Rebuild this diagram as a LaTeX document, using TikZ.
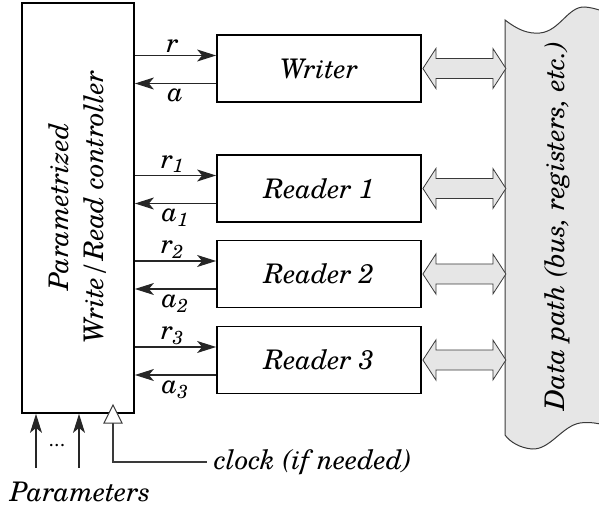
\documentclass[tikz,border=0pt]{standalone}
\usepackage{fontspec}
\setmainfont{TeX Gyre Schola}
\usetikzlibrary{arrows.meta,calc}
\definecolor{pathgray}{HTML}{E6E6E6}
\definecolor{linegray}{HTML}{3A3A3A}
\tikzset{
  blockbox/.style={draw=black, line width=1.8pt, minimum width=204pt, minimum height=67pt, inner sep=0pt},
  sig/.style={draw=black!85, line width=1.2pt, -{Stealth[length=19pt,width=12pt,inset=5pt]}},
  lbl/.style={inner sep=2pt},
  dbl/.style={draw=linegray, line width=0.8pt, fill=pathgray},
  clk/.style={draw=linegray, line width=1.3pt}
}
\begin{document}
\begin{tikzpicture}[x=1pt,y=-1pt,font=\fontsize{27}{35}\selectfont\itshape]
\useasboundingbox (0,0) rectangle (599,510);
% data path
\begin{scope}
\clip (0,0) rectangle (599,510);
\draw[linegray, line width=1pt, fill=pathgray]
  (505,20) .. controls (518,30) and (528,34) .. (540,33)
  .. controls (560,31) and (568,6) .. (585,7)
  .. controls (596,8) and (605,12) .. (615,16)
  -- (615,428)
  .. controls (605,425) and (592,421) .. (580,423)
  .. controls (562,426) and (550,450) .. (532,449)
  .. controls (520,448) and (510,442) .. (505,435) -- cycle;
\end{scope}
\node[rotate=90] (dp) at (557,226) {Data path (bus, registers, etc.)};
% controller
\node[draw=black, line width=1.8pt, minimum width=112pt, minimum height=410pt, inner sep=0pt] (ctrl) at (78,208) {};
\node[rotate=90, align=center] (ctrltext) at (78,207) {Parametrized\\Write/Read controller};
% blocks
\node[blockbox] (w) at (319,68.5) {Writer};
\node[blockbox] (r1) at (319,188.5) {Reader 1};
\node[blockbox] (r2) at (319,274) {Reader 2};
\node[blockbox] (r3) at (319,360) {Reader 3};
% handshakes
\foreach \b/\rl/\al in {w/r/a, r1/r\textsubscript{1}/a\textsubscript{1}, r2/r\textsubscript{2}/a\textsubscript{2}, r3/r\textsubscript{3}/a\textsubscript{3}}{
  \coordinate (\b rq) at ($(\b.west)+(0,-13)$);
  \coordinate (\b ak) at ($(\b.west)+(0,15)$);
  \draw[sig] (ctrl.east |- \b rq) -- node[lbl, above, xshift=-3pt] {\rl} (\b rq);
  \draw[sig] (\b ak) -- node[lbl, below, inner sep=5pt] {\al} (ctrl.east |- \b ak);
  \draw[dbl] ($(\b.east)+(1,0)$) -- ++(13,-20) -- ++(0,10) -- ++(57,0) -- ++(0,-10) -- ++(13,20)
     -- ++(-13,20) -- ++(0,-10) -- ++(-57,0) -- ++(0,10) -- cycle;
}
% parameters
\coordinate (p1) at (36,468);
\coordinate (p2) at (79,468);
\draw[sig] (p1) -- (p1 |- ctrl.south);
\draw[sig] (p2) -- (p2 |- ctrl.south);
\node[font=\fontsize{20}{28}\selectfont\upshape] (dots) at (57,446) {...};
\node (params) at (80,492) {Parameters};
% clock
\coordinate (ck) at (113,423);
\coordinate (ckc) at (113,462);
\node[anchor=west, inner sep=0pt] (clock) at (214,462) {clock (if needed)};
\draw[clk] (ck) -- (ckc) -- (clock.west -| 207,0);
\draw[clk, fill=white, line width=1pt] (113,405) -- (122,423) -- (104,423) -- cycle;
\end{tikzpicture}
\end{document}
